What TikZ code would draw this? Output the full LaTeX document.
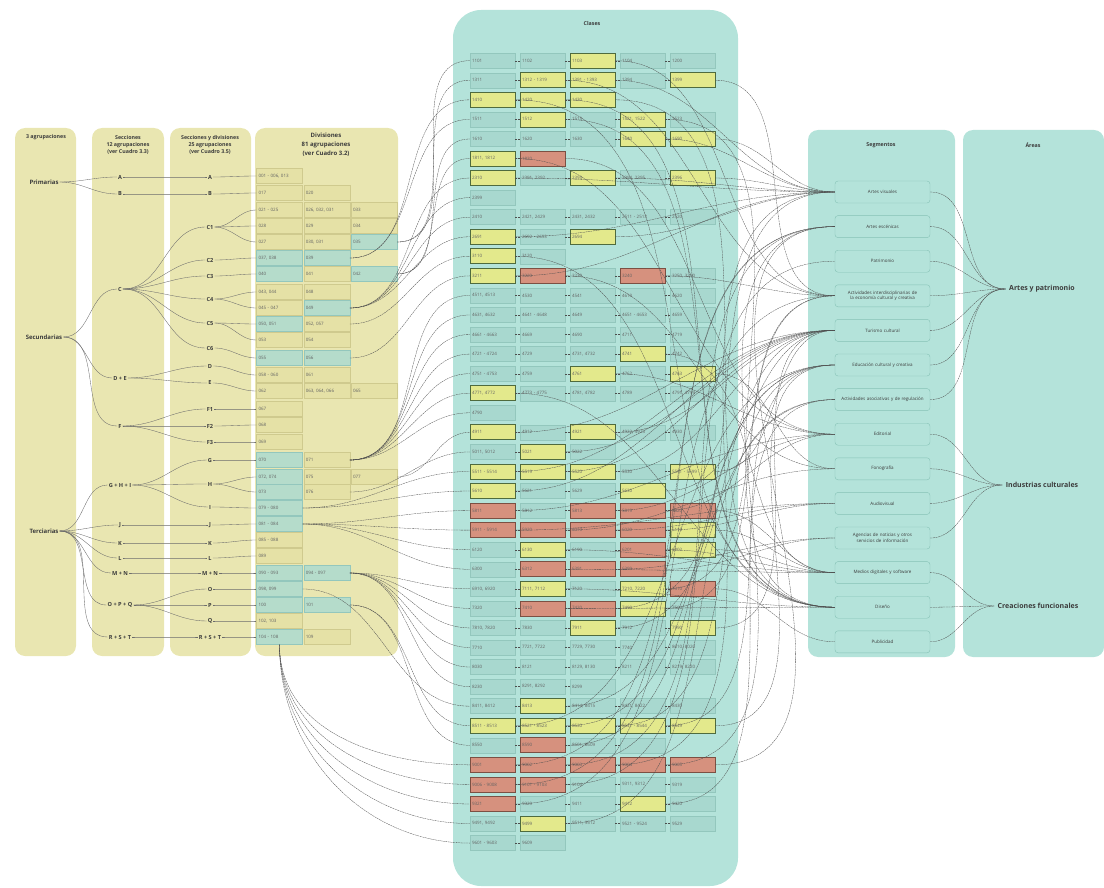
\documentclass[tikz,border=0pt]{standalone}
\usepackage{fontspec}
\setmainfont{Open Sans}
\usetikzlibrary{arrows.meta,positioning}

\definecolor{panelY}{HTML}{E9E6B1}
\definecolor{panelT}{HTML}{B4E3DA}
\definecolor{divFill}{HTML}{E5E1A6}
\definecolor{divLine}{HTML}{CFCA8E}
\definecolor{divGreen}{HTML}{B5DCCB}
\definecolor{clsFill}{HTML}{A8D8CF}
\definecolor{clsLine}{HTML}{93C7BD}
\definecolor{yelFill}{HTML}{E3E98C}
\definecolor{yelLine}{HTML}{4F6B3E}
\definecolor{redFill}{HTML}{D6917E}
\definecolor{redLine}{HTML}{7C5043}
\definecolor{segLine}{HTML}{86C2B6}
\definecolor{ink}{HTML}{3C3C3C}
\definecolor{wireC}{HTML}{4E4E4E}

% one row of classes: index, cells (text/kind)
\newcommand{\classrow}[2]{%
  \foreach \lab/\kind [count=\col] in {#2}{%
    \node[cbox, cls\kind] (c-#1-\col) at ({492.5+50*(\col-1)}, {60.7+19.56*#1}) {\lab};
  }%
  \foreach \lab/\kind [count=\col, remember=\col as \prv (initially 0)] in {#2}{%
    \ifnum\col>1 \draw[wire] (c-#1-\prv.east) -- (c-#1-\col.west);\fi
  }%
}
% one row of divisions: index, y, cells
\newcommand{\divrow}[3]{%
  \foreach \lab/\kind [count=\col] in {#3}{%
    \node[dbox, div\kind] (d-#1-\col) at ({279.5+47.25*(\col-1)}, #2) {\lab};
  }%
}

\begin{document}
\begin{tikzpicture}[
  x=1pt, y=-1pt,
  node distance=12.2pt,
  panel/.style={rounded corners=10pt},
  ttl/.style={font=\fontsize{5.3}{7}\selectfont\bfseries, text=ink, align=center},
  lv/.style={font=\fontsize{5.6}{6}\selectfont\bfseries, text=ink, inner sep=1pt},
  dbox/.style={draw=divLine, fill=divFill, minimum height=15pt, text width=42pt, inner sep=2pt, align=left, font=\fontsize{4.5}{5}\selectfont, text=ink!80},
  divy/.style={},
  divg/.style={fill=divGreen, draw=clsLine},
  cbox/.style={minimum height=15pt, text width=41pt, inner sep=2pt, align=left, font=\fontsize{4.5}{5}\selectfont, text=ink!80},
  clsn/.style={draw=clsLine, fill=clsFill},
  clsy/.style={draw=yelLine, fill=yelFill, line width=0.7pt},
  clsr/.style={draw=redLine, fill=redFill, line width=0.7pt},
  sbox/.style={draw=segLine, fill=panelT, rounded corners=3pt, minimum width=95pt, minimum height=22pt, text width=86pt, align=center, font=\fontsize{4.5}{5.8}\selectfont, text=ink},
  area/.style={font=\fontsize{7}{8}\selectfont\bfseries, text=ink},
  wire/.style={draw=wireC, line width=0.3pt, dash pattern=on 2pt off 0.6pt},
  tree/.style={draw=gray!85!black, line width=0.35pt}]

\useasboundingbox (0,0) rectangle (1104,888);

% panels
\fill[panelY, panel] (15,128) rectangle (76,656);
\fill[panelY, panel] (92,128) rectangle (164,656);
\fill[panelY, panel] (170,128) rectangle (251,656);
\fill[panelY, panel] (255,128) rectangle (398,656);
\fill[panelT, rounded corners=28pt] (453,10) rectangle (738,886);
\fill[panelT, panel] (808,130) rectangle (955,657);
\fill[panelT, panel] (963,130) rectangle (1104,657);

\node[ttl] (tAgr) at (46,137) {3 agrupaciones};
\node[ttl] (tSec) at (128,145) {Secciones\\12 agrupaciones\\(ver Cuadro 3.3)};
\node[ttl] (tSecDiv) at (210,145) {Secciones y divisiones\\25 agrupaciones\\(ver Cuadro 3.5)};
\node[ttl, font=\fontsize{6}{9}\selectfont\bfseries] (tDiv) at (326,145) {Divisiones\\81 agrupaciones\\(ver Cuadro 3.2)};
\node[ttl] (tCla) at (592,24) {Clases};
\node[ttl] (tSeg) at (881,145) {Segmentos};
\node[ttl] (tAre) at (1033,145) {Áreas};

% agrupaciones, secciones, secciones y divisiones
\node[lv, font=\fontsize{6}{7}\selectfont\bfseries] (p-prim) at (44,182) {Primarias};
\node[lv, font=\fontsize{6}{7}\selectfont\bfseries] (p-secu) at (44,337) {Secundarias};
\node[lv, font=\fontsize{6}{7}\selectfont\bfseries] (p-terc) at (44,531) {Terciarias};

\foreach \nm/\lab/\yy in {A/A/177, B/B/194, C/C/289, DE/D + E/378, F/F/426, GHI/G + H + I/485,
  J/J/525, K/K/543, L/L/558, MN/M + N/573, OPQ/O + P + Q/605, RST/R + S + T/637}
  \node[lv] (s-\nm) at (120,\yy) {\lab};

\foreach \nm/\lab/\yy in {A/A/177, B/B/194, C1/C1/227, C2/C2/260, C3/C3/276, C4/C4/299, C5/C5/323,
  C6/C6/348, D/D/366, E/E/383, F1/F1/409, F2/F2/426, F3/F3/442, G/G/460, H/H/484, I/I/507,
  J/J/525, K/K/543, L/L/558, MN/M + N/573, O/O/589, P/P/605, Q/Q/621, RST/R + S + T/637}
  \node[lv] (v-\nm) at (210,\yy) {\lab};

% divisiones
\divrow{0}{176}{{001 - 006, 013}/y}
\divrow{1}{193}{017/y, 020/y}
\divrow{2}{210}{{021 - 025}/y, {026, 032, 031}/y, 033/y}
\divrow{3}{226}{028/y, 029/y, 034/y}
\divrow{4}{242}{027/y, {030, 031}/y, 035/g}
\divrow{5}{258}{{037, 038}/g, 039/g}
\divrow{6}{274}{040/g, 041/y, 042/g}
\divrow{7}{292}{{043, 044}/y, 048/y}
\divrow{8}{308}{{045 - 047}/y, 049/g}
\divrow{9}{324}{{050, 051}/g, {052, 057}/y}
\divrow{10}{340}{053/y, 054/y}
\divrow{11}{358}{055/g, 056/g}
\divrow{12}{375}{{058 - 060}/y, 061/y}
\divrow{13}{391}{062/y, {063, 064, 066}/y, 065/y}
\divrow{14}{409}{067/y}
\divrow{15}{425}{068/y}
\divrow{16}{442}{069/y}
\divrow{17}{460}{070/g, 071/y}
\divrow{18}{477}{{072, 074}/g, 075/y, 077/y}
\divrow{19}{492}{073/g, 076/y}
\divrow{20}{508}{{079 - 080}/g}
\divrow{21}{524}{{081 - 084}/g}
\divrow{22}{540}{{085 - 088}/y}
\divrow{23}{556}{089/y}
\divrow{24}{573}{{090 - 093}/g, {094 - 097}/g}
\divrow{25}{589}{{098, 099}/g}
\divrow{26}{605}{100/g, 101/g}
\divrow{27}{621}{{102, 103}/y}
\divrow{28}{637}{{104 - 108}/g, 109/y}

% clases
\classrow{0}{1101/n, 1102/n, 1103/y, 1104/n, 1200/n}
\classrow{1}{1311/n, {1312 - 1319}/y, {1391 - 1393}/y, 1394/n, 1399/y}
\classrow{2}{1410/y, 1420/y, 1430/y}
\classrow{3}{1511/n, 1512/y, 1513/n, {1521, 1522}/y, 1523/n}
\classrow{4}{1610/n, 1620/n, 1630/n, 1640/y, 1690/y}
\classrow{5}{{1811, 1812}/y, 1820/r}
\classrow{6}{2310/y, {2391, 2392}/n, 2393/y, {2394, 2395}/n, 2396/y}
\classrow{7}{2399/n}
\classrow{8}{2410/n, {2421, 2429}/n, {2431, 2432}/n, {2511 - 2513}/n, 2520/n}
\classrow{9}{2691/y, {2692 - 2693}/n, 2694/y}
\classrow{10}{3110/y, 3120/n}
\classrow{11}{3211/y, 3220/r, 3230/n, 3240/r, {3250, 3290}/n}
\classrow{12}{{4511, 4513}/n, 4530/n, 4541/n, 4610/n, 4620/n}
\classrow{13}{{4631, 4632}/n, {4641 - 4648}/n, 4649/n, {4651 - 4653}/n, 4659/n}
\classrow{14}{{4661 - 4663}/n, 4669/n, 4690/n, 4711/n, 4719/n}
\classrow{15}{{4721 - 4724}/n, 4729/n, {4731, 4732}/n, 4741/y, 4742/n}
\classrow{16}{{4751 - 4753}/n, 4759/n, 4761/y, 4762/n, 4763/y}
\classrow{17}{{4771, 4772}/y, {4773 - 4775}/n, {4781, 4782}/n, 4789/n, {4791, 4799}/n}
\classrow{18}{4790/n}
\classrow{19}{4911/y, 4912/n, 4921/y, {4922, 4923}/n, 4930/n}
\classrow{20}{{5011, 5012}/n, 5021/y, 5022/n}
\classrow{21}{{5511 - 5514}/y, 5519/y, 5520/y, 5530/n, {5591 - 5599}/y}
\classrow{22}{5610/y, 5621/n, 5629/n, 5630/y}
\classrow{23}{5811/r, 5812/n, 5813/r, 5819/r, 5820/r}
\classrow{24}{{5911 - 5914}/r, 5920/r, 6010/r, 6020/r, 6110/y}
\classrow{25}{6120/n, 6130/y, 6190/n, 6201/r, 6202/y}
\classrow{26}{6300/n, 6312/r, 6391/r, 6399/r}
\classrow{27}{{6910, 6920}/n, {7111, 7112}/y, 7120/n, {7210, 7220}/y, 7310/r}
\classrow{28}{7320/n, 7410/r, 7420/r, 7490/y, 7500/n}
\classrow{29}{{7810, 7820}/n, 7830/n, 7911/y, 7912/n, 7990/y}
\classrow{30}{7710/n, {7721, 7722}/n, {7729, 7730}/n, 7740/n, {8010, 8020}/n}
\classrow{31}{8030/n, 8121/n, {8129, 8130}/n, 8211/n, {8219, 8220}/n}
\classrow{32}{8230/n, {8291, 8292}/n, 8299/n}
\classrow{33}{{8411, 8412}/n, 8413/y, {8414, 8415}/n, {8421, 8422}/n, 8430/n}
\classrow{34}{{8511 - 8513}/y, {8521 - 8523}/y, 8530/y, {8541 - 8544}/y, 8549/y}
\classrow{35}{8550/n, 8590/r, {8601, 8609}/n, /n}
\classrow{36}{9001/r, 9002/r, 9003/r, 9004/r, 9005/r}
\classrow{37}{{9006 - 9008}/r, {9101 - 9103}/r, 9104/n, {9311, 9312}/n, 9319/n}
\classrow{38}{9321/r, 9329/n, 9411/n, 9412/y, 9420/n}
\classrow{39}{{9491, 9492}/n, 9499/y, {9511, 9512}/n, {9521 - 9524}/n, 9529/n}
\classrow{40}{{9601 - 9603}/n, 9609/n}

% segmentos
\node[sbox] (sg-vis) at (882.5,192) {Artes visuales};
\node[sbox, below=of sg-vis] (sg-esc) {Artes escénicas};
\node[sbox, below=of sg-esc] (sg-pat) {Patrimonio};
\node[sbox, below=of sg-pat] (sg-int) {Actividades interdisciplinarias de la economía cultural y creativa};
\node[sbox, below=of sg-int] (sg-tur) {Turismo cultural};
\node[sbox, below=of sg-tur] (sg-edu) {Educación cultural y creativa};
\node[sbox, below=of sg-edu] (sg-aso) {Actividades asociativas y de regulación};
\node[sbox, below=of sg-aso] (sg-edi) {Editorial};
\node[sbox, below=of sg-edi] (sg-fon) {Fonografía};
\node[sbox, below=of sg-fon] (sg-aud) {Audiovisual};
\node[sbox, below=of sg-aud] (sg-age) {Agencias de noticias y otros servicios de información};
\node[sbox, below=of sg-age] (sg-med) {Medios digitales y software};
\node[sbox, below=of sg-med] (sg-dis) {Diseño};
\node[sbox, below=of sg-dis] (sg-pub) {Publicidad};

% areas
\node[area] (a-art) at (1042,289) {Artes y patrimonio};
\node[area] (a-ind) at (1042,485) {Industrias culturales};
\node[area] (a-cre) at (1038,606) {Creaciones funcionales};

% arbol de la izquierda
\foreach \a/\b in {p-prim/s-A, p-prim/s-B, p-secu/s-C, p-secu/s-DE, p-secu/s-F,
  p-terc/s-GHI, p-terc/s-J, p-terc/s-K, p-terc/s-L, p-terc/s-MN, p-terc/s-OPQ, p-terc/s-RST,
  s-A/v-A, s-B/v-B, s-C/v-C1, s-C/v-C2, s-C/v-C3, s-C/v-C4, s-C/v-C5, s-C/v-C6,
  s-DE/v-D, s-DE/v-E, s-F/v-F1, s-F/v-F2, s-F/v-F3, s-GHI/v-G, s-GHI/v-H, s-GHI/v-I,
  s-J/v-J, s-K/v-K, s-L/v-L, s-MN/v-MN, s-OPQ/v-O, s-OPQ/v-P, s-OPQ/v-Q, s-RST/v-RST}
  \draw[tree] (\a.east) to[out=0,in=180] (\b.west);

\foreach \a/\r in {v-A/0, v-B/1, v-C1/2, v-C1/3, v-C1/4, v-C2/5, v-C3/6, v-C4/7, v-C4/8,
  v-C5/9, v-C5/10, v-C6/11, v-D/12, v-E/13, v-F1/14, v-F2/15, v-F3/16, v-G/17, v-H/18,
  v-H/19, v-I/20, v-J/21, v-K/22, v-L/23, v-MN/24, v-O/25, v-P/26, v-Q/27, v-RST/28}
  \draw[tree] (\a.east) to[out=0,in=180] (d-\r-1.west);

% divisiones -> clases
\foreach \dr/\dc/\cr in {4/3/0, 4/3/1, 5/2/2, 5/2/3, 6/3/4, 6/3/5, 8/2/6, 8/2/7, 8/2/8, 8/2/9,
  9/2/10, 11/2/11, 17/2/12, 17/2/13, 17/2/14, 17/2/15, 17/2/16, 17/2/17, 17/2/18,
  18/3/19, 19/2/20, 20/1/21, 20/1/22, 21/1/23, 21/1/24, 21/1/25, 21/1/26,
  24/2/27, 24/2/28, 24/2/29, 24/2/30, 24/2/31, 24/2/32, 25/1/33, 26/2/34, 26/2/35}
  \draw[wire] (d-\dr-\dc.east) to[out=0,in=180] (c-\cr-1.west);
\foreach \cr in {36,...,40}
  \draw[wire] (d-28-1.south) to[out=-90,in=180] (c-\cr-1.west);

% clases -> segmentos
\foreach \cr/\cc/\sg in {0/3/int, 1/2/int, 1/3/vis, 1/5/int, 2/1/dis, 2/2/dis, 2/3/dis,
  3/2/dis, 3/4/dis, 4/4/vis, 4/5/vis, 5/1/edi, 5/2/edi, 6/1/vis, 6/3/vis, 6/5/vis,
  9/1/vis, 9/3/vis, 10/1/dis, 11/1/vis, 11/2/fon, 11/4/int, 15/4/med, 16/3/edi, 16/5/fon,
  17/1/dis, 19/1/tur, 19/3/tur, 20/2/tur, 21/1/tur, 21/2/tur, 21/3/tur, 21/5/tur,
  22/1/tur, 22/4/tur, 23/1/edi, 23/3/edi, 23/4/edi, 23/5/med, 24/1/aud, 24/2/fon,
  24/3/aud, 24/4/aud, 24/5/med, 25/2/med, 25/4/med, 25/5/med, 26/2/med, 26/3/age,
  26/4/age, 27/2/dis, 27/4/int, 27/5/pub, 28/2/dis, 28/3/vis, 28/4/int, 29/3/tur,
  29/5/tur, 33/2/aso, 34/1/edu, 34/2/edu, 34/3/edu, 34/4/edu, 34/5/edu, 35/2/edu,
  36/1/esc, 36/2/esc, 36/3/vis, 36/4/esc, 36/5/esc, 37/1/esc, 37/2/pat, 38/1/int,
  38/4/aso, 39/2/aso}
  \draw[wire] (c-\cr-\cc.east) to[out=0,in=180] (sg-\sg.west);

% segmentos -> areas
\foreach \sg in {vis,esc,pat,int,tur,edu,aso}
  \draw[wire] (sg-\sg.east) to[out=0,in=180] (a-art.west);
\foreach \sg in {edi,fon,aud,age}
  \draw[wire] (sg-\sg.east) to[out=0,in=180] (a-ind.west);
\foreach \sg in {med,dis,pub}
  \draw[wire] (sg-\sg.east) to[out=0,in=180] (a-cre.west);

\end{tikzpicture}
\end{document}
